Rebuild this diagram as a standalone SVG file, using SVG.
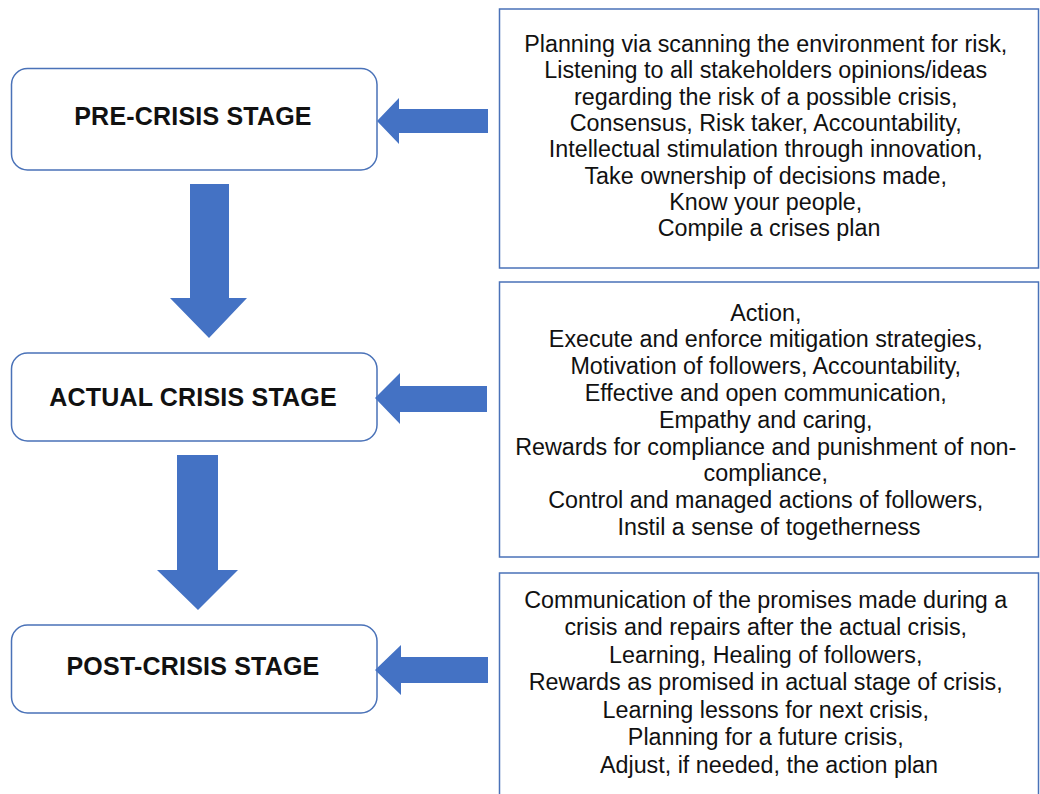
<svg xmlns="http://www.w3.org/2000/svg" width="1040" height="794" viewBox="0 0 1040 794">
<style>
.stage{fill:#fff;stroke:#4a72b8;stroke-width:1.5}
.box{fill:#fff;stroke:#4a72b8;stroke-width:1.5}
.lbl{font-family:"Liberation Sans",Arial,sans-serif;font-weight:bold;font-size:25px;letter-spacing:0.2px;fill:#111;text-anchor:middle}
.txt{font-family:"Liberation Sans",Arial,sans-serif;font-size:23.3px;fill:#111;text-anchor:middle}
.arr{fill:#4472c4}
</style>
<rect width="1040" height="794" fill="#fff"/>
<g id="pre-crisis">
<rect class="stage" x="11.5" y="68.5" width="365.5" height="101.5" rx="16"/>
<text class="lbl" x="193" y="125">PRE-CRISIS STAGE</text>
</g>
<g id="actual-crisis">
<rect class="stage" x="11.5" y="353" width="365.5" height="88" rx="16"/>
<text class="lbl" x="193" y="406">ACTUAL CRISIS STAGE</text>
</g>
<g id="post-crisis">
<rect class="stage" x="11.5" y="625" width="365.5" height="88" rx="16"/>
<text class="lbl" x="193" y="675">POST-CRISIS STAGE</text>
</g>
<g id="pre-text">
<rect class="box" x="499.5" y="9" width="539" height="259"/>
<text class="txt">
<tspan x="769" y="52">Planning via scanning the environment for risk,</tspan>
<tspan x="769" y="78.3">Listening to all stakeholders opinions/ideas</tspan>
<tspan x="769" y="104.6">regarding the risk of a possible crisis,</tspan>
<tspan x="769" y="130.9">Consensus, Risk taker, Accountability,</tspan>
<tspan x="769" y="157.2">Intellectual stimulation through innovation,</tspan>
<tspan x="769" y="183.5">Take ownership of decisions made,</tspan>
<tspan x="769" y="209.8">Know your people,</tspan>
<tspan x="769" y="236">Compile a crises plan</tspan>
</text>
</g>
<g id="actual-text">
<rect class="box" x="499.5" y="282" width="539" height="275"/>
<text class="txt">
<tspan x="769" y="320.5">Action,</tspan>
<tspan x="769" y="347.3">Execute and enforce mitigation strategies,</tspan>
<tspan x="769" y="374.1">Motivation of followers, Accountability,</tspan>
<tspan x="769" y="400.9">Effective and open communication,</tspan>
<tspan x="769" y="427.7">Empathy and caring,</tspan>
<tspan x="769" y="454.5">Rewards for compliance and punishment of non-</tspan>
<tspan x="769" y="481.3">compliance,</tspan>
<tspan x="769" y="508.1">Control and managed actions of followers,</tspan>
<tspan x="769" y="535">Instil a sense of togetherness</tspan>
</text>
</g>
<g id="post-text">
<rect class="box" x="499.5" y="573" width="539" height="240"/>
<text class="txt">
<tspan x="769" y="607.5">Communication of the promises made during a</tspan>
<tspan x="769" y="635">crisis and repairs after the actual crisis,</tspan>
<tspan x="769" y="662.5">Learning, Healing of followers,</tspan>
<tspan x="769" y="690">Rewards as promised in actual stage of crisis,</tspan>
<tspan x="769" y="717.5">Learning lessons for next crisis,</tspan>
<tspan x="769" y="745">Planning for a future crisis,</tspan>
<tspan x="769" y="772.5">Adjust, if needed, the action plan</tspan>
</text>
</g>
<g id="connectors">
<polygon class="arr" points="190,184 229,184 229,298 247,298 209,338 170,298 190,298"/>
<polygon class="arr" points="177,455 218,455 218,570 238,570 198,610 157,570 177,570"/>
<polygon class="arr" points="377,121 399,98 399,109 488,109 488,133 399,133 399,144"/>
<polygon class="arr" points="375,398 400,373 400,386 487,386 487,412 400,412 400,424"/>
<polygon class="arr" points="375,670 401,645 401,657 488,657 488,683 401,683 401,695"/>
</g>
</svg>
